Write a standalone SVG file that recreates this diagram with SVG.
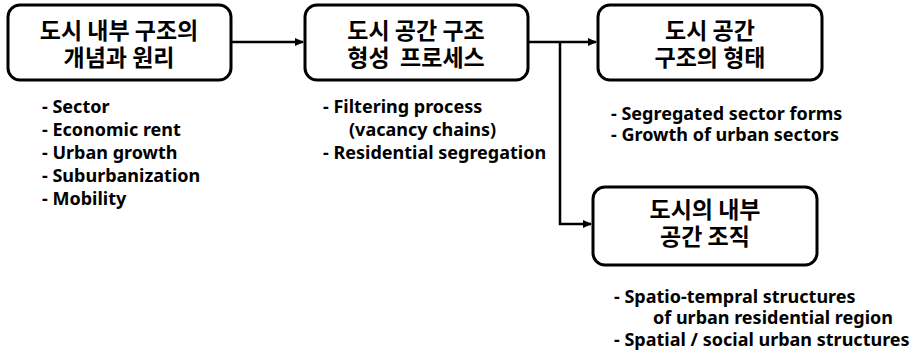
<svg xmlns="http://www.w3.org/2000/svg" width="923" height="355" viewBox="0 0 923 355">
<style>
.box{fill:#fff;stroke:#000;stroke-width:3}
.t{font-family:"Noto Sans CJK KR","Noto Sans",sans-serif;font-weight:bold;font-size:23px;text-anchor:middle;fill:#000}
.l{font-family:"Noto Sans","Noto Sans CJK KR",sans-serif;font-weight:bold;font-size:18px;fill:#000}
.c{fill:none;stroke:#000;stroke-width:2.5}
</style>
<defs>
<marker id="ah" markerWidth="10" markerHeight="10" refX="8" refY="5" orient="auto" markerUnits="userSpaceOnUse">
<path d="M0,1 L9,5 L0,9 Z" fill="#000"/>
</marker>
</defs>
<g id="connectors">
<path class="c" d="M231,42 H303" marker-end="url(#ah)"/>
<path class="c" d="M528,42 H596" marker-end="url(#ah)"/>
<path class="c" d="M560,42 V224 H591" marker-end="url(#ah)"/>
</g>
<g id="node1">
<rect class="box" x="8" y="5" width="223" height="75" rx="12"/>
<text class="t"><tspan x="119" y="39">도시 내부 구조의</tspan><tspan x="119" y="66">개념과 원리</tspan></text>
</g>
<g id="node2">
<rect class="box" x="305" y="5" width="223" height="75" rx="12"/>
<text class="t" xml:space="preserve"><tspan x="416" y="39">도시 공간 구조</tspan><tspan x="416" y="66">형성  프로세스</tspan></text>
</g>
<g id="node3">
<rect class="box" x="598" y="5" width="224" height="75" rx="12"/>
<text class="t"><tspan x="710" y="39">도시 공간</tspan><tspan x="710" y="66">구조의 형태</tspan></text>
</g>
<g id="node4">
<rect class="box" x="593" y="187" width="224" height="78" rx="12"/>
<text class="t"><tspan x="705" y="218">도시의 내부</tspan><tspan x="705" y="245">공간 조직</tspan></text>
</g>
<g id="list1">
<text class="l" x="42" y="113">- Sector</text>
<text class="l" x="42" y="136">- Economic rent</text>
<text class="l" x="42" y="159">- Urban growth</text>
<text class="l" x="42" y="182">- Suburbanization</text>
<text class="l" x="42" y="205">- Mobility</text>
</g>
<g id="list2">
<text class="l" x="323" y="113">- Filtering process</text>
<text class="l" x="349" y="136">(vacancy chains)</text>
<text class="l" x="323" y="159">- Residential segregation</text>
</g>
<g id="list3">
<text class="l" x="611" y="120">- Segregated sector forms</text>
<text class="l" x="611" y="141">- Growth of urban sectors</text>
</g>
<g id="list4">
<text class="l" x="614" y="303">- Spatio-tempral structures</text>
<text class="l" x="653" y="324">of urban residential region</text>
<text class="l" x="614" y="346">- Spatial / social urban structures</text>
</g>
</svg>
